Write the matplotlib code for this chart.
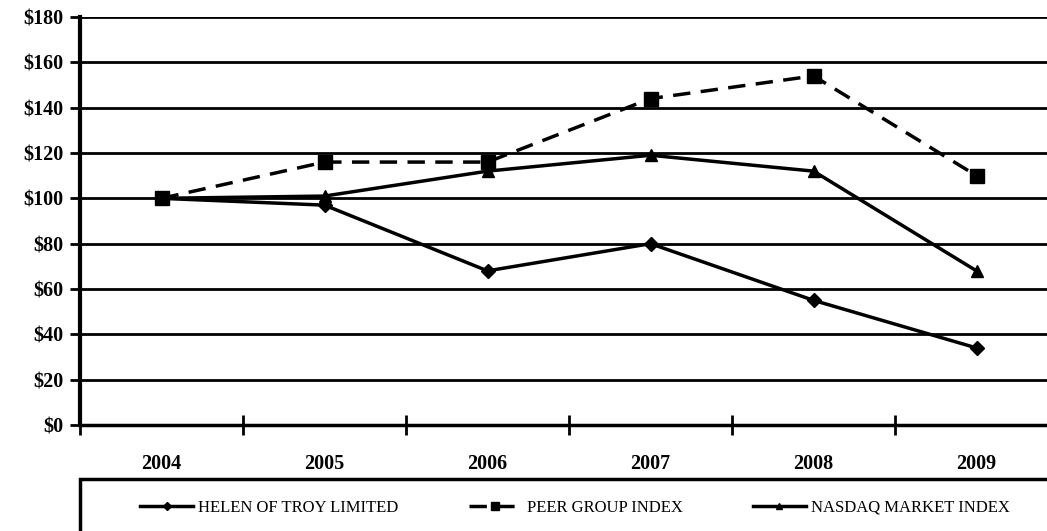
import matplotlib
matplotlib.use("Agg")
import matplotlib.pyplot as plt
from matplotlib.patches import Rectangle

years = ["2004", "2005", "2006", "2007", "2008", "2009"]
helen = [100, 97, 68, 80, 55, 34]
peer = [100, 116, 116, 144, 154, 110]
nasdaq = [100, 101, 112, 119, 112, 68]
y_ticks = [0, 20, 40, 60, 80, 100, 120, 140, 160, 180]

plt.rcParams["font.family"] = ["Liberation Serif", "DejaVu Serif"]

fig = plt.figure(figsize=(10.47, 5.31), dpi=100)
ax = fig.add_axes([80 / 1047, 1 - 425 / 531, 978 / 1047, 408 / 531])

x = list(range(len(years)))
ax.plot(x, helen, color="black", lw=2.5, marker="D", ms=7, label="HELEN OF TROY LIMITED")
ax.plot(x, peer, color="black", lw=2.5, ls=(0, (5, 3)), marker="s", ms=10, label="PEER GROUP INDEX")
ax.plot(x, nasdaq, color="black", lw=2.5, marker="^", ms=9, label="NASDAQ MARKET INDEX")

ax.set_xlim(-0.5, len(years) - 0.5)
ax.set_ylim(0, 180)
ax.set_yticks(y_ticks)
ax.set_yticklabels([r"\$%d" % v for v in y_ticks], fontsize=14.5, fontweight="bold")
ax.yaxis.grid(True, color="black", lw=2)
ax.set_axisbelow(True)

# year labels at centres, tick marks at boundaries
ax.set_xticks(x)
ax.set_xticklabels(years, fontsize=14.5, fontweight="bold")
ax.tick_params(axis="x", which="major", length=0, pad=21)
ax.set_xticks([i - 0.5 for i in range(len(years) + 1)], minor=True)
ax.tick_params(axis="x", which="minor", length=14, width=2, direction="inout", color="black")
ax.tick_params(axis="y", length=7, width=2, direction="out", pad=5)

for side in ["top", "right"]:
    ax.spines[side].set_visible(False)
ax.spines["left"].set_linewidth(3)
ax.spines["bottom"].set_linewidth(2.5)

# legend box along the bottom
fig.patches.append(Rectangle((80 / 1047, -0.05), 1.0, 1 - 479 / 531 + 0.05,
                             transform=fig.transFigure, fill=False,
                             edgecolor="black", lw=2.5))
fig.legend(loc="center", bbox_to_anchor=(575 / 1047, 1 - 508 / 531), ncol=3,
           frameon=False, fontsize=12, handlelength=3.2, columnspacing=4.2,
           handletextpad=0.3, markerscale=0.55)

fig.savefig("out.png", dpi=100)
